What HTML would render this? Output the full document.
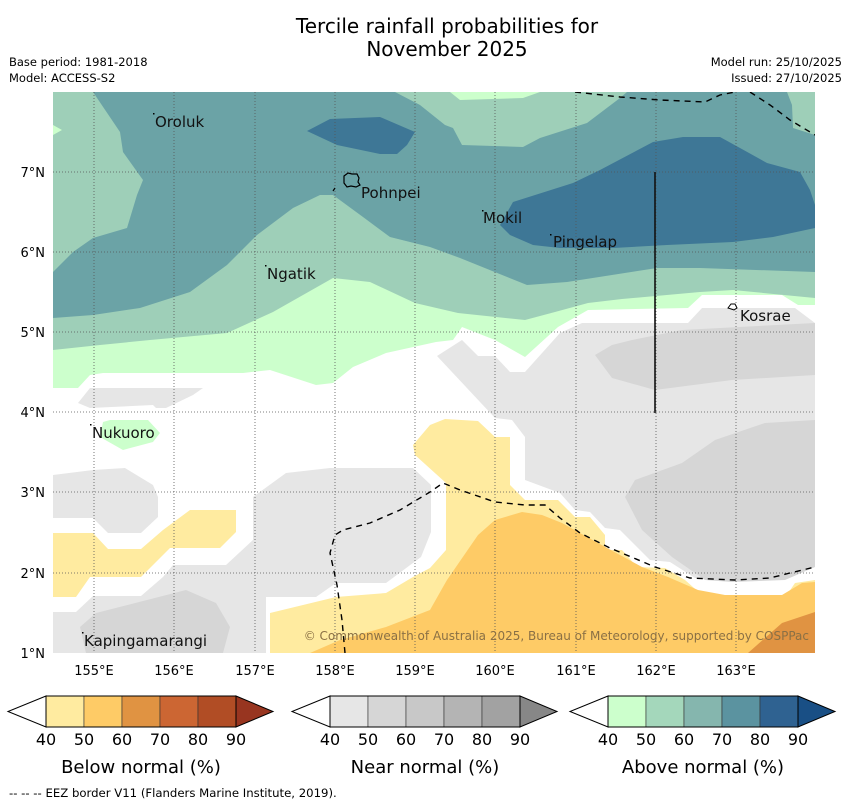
<!DOCTYPE html>
<html><head><meta charset="utf-8"><style>
body{margin:0;background:#fff;width:850px;height:804px;overflow:hidden;font-family:"Liberation Sans","DejaVu Sans",sans-serif;}
svg{position:absolute;left:0;top:0}
</style></head><body>
<svg width="850" height="804" viewBox="0 0 850 804" xmlns="http://www.w3.org/2000/svg" font-family="DejaVu Sans, Liberation Sans, sans-serif">
<text x="447" y="33" font-size="20" text-anchor="middle">Tercile rainfall probabilities for</text>
<text x="447" y="56" font-size="20" text-anchor="middle">November 2025</text>
<text x="9" y="66" font-size="11.5">Base period: 1981-2018</text>
<text x="9" y="82" font-size="11.5">Model: ACCESS-S2</text>
<text x="842" y="66" font-size="11.5" text-anchor="end">Model run: 25/10/2025</text>
<text x="842" y="82" font-size="11.5" text-anchor="end">Issued: 27/10/2025</text>
<defs><clipPath id="mc"><rect x="53" y="92" width="762" height="561"/></clipPath></defs>
<g clip-path="url(#mc)">
<rect x="53" y="92" width="762" height="561" fill="#fff"/>
<polygon fill="#ccffcc" points="53,92 815,92 815,305 798,305 782,295 702,295 688,308 588,310 558,327 525,357 495,340 462,327 453,340 436,342 386,353 353,367 333,383 316,385 270,370 243,373 103,373 90,375 78,388 53,388"/>
<polygon fill="#9ecfb8" points="53,92 815,92 815,298 733,290 700,292 622,299 588,303 555,312 525,320 458,313 415,303 370,282 333,278 273,312 227,333 150,340 100,345 53,350"/>
<polygon fill="#ccffcc" points="450,92 540,92 523,98 460,100"/>
<polygon fill="#ccffcc" points="53,125 62,130 53,135"/>
<polygon fill="#6ba3a6" points="93,92 395,92 420,105 445,125 453,128 462,145 523,147 540,138 587,123 620,98 627,92 787,92 792,105 793,128 815,135 815,272 700,268 657,268 567,282 527,285 460,258 430,247 390,237 363,217 333,195 320,195 293,208 257,235 227,265 190,292 140,308 93,315 53,318 53,272 73,252 93,238 127,228 137,195 143,180 123,152 120,132"/>
<polygon fill="#3e7796" points="307,131 330,119 380,117 415,132 407,145 397,154 380,154 337,145"/>
<polygon fill="#3e7796" points="500,225 513,202 573,183 600,170 653,142 683,137 720,137 740,148 767,163 800,172 810,190 815,205 815,228 773,237 733,242 667,245 613,248 560,248 533,245 510,235"/>
<polygon fill="#e6e6e6" points="78,403 90,388 203,388 193,395 166,408 156,408 153,405 90,408"/>
<polygon fill="#ccffcc" points="100,437 103,422 110,420 148,420 160,433 153,442 123,450"/>
<polygon fill="#e6e6e6" points="53,475 93,470 125,468 153,485 158,497 158,517 141,533 108,533 93,518 53,518"/>
<polygon fill="#e6e6e6" points="53,612 76,612 93,596 141,596 163,577 173,565 226,565 253,540 253,497 286,473 330,468 413,468 431,485 431,532 421,557 386,583 336,583 316,597 266,597 266,653 53,653"/>
<polygon fill="#d6d6d6" points="80,627 96,613 186,590 216,603 230,627 223,653 86,653"/>
<polygon fill="#e6e6e6" points="437,356 462,340 478,356 495,356 510,372 525,372 560,333 582,323 688,323 702,308 795,308 815,323 815,565 785,578 695,578 670,562 650,560 620,530 605,528 590,512 575,510 560,493 525,480 525,437 512,420 495,418"/>
<polygon fill="#d6d6d6" points="595,355 612,345 632,340 682,330 815,323 815,375 732,380 655,390 612,378"/>
<polygon fill="#d6d6d6" points="625,497 635,480 682,463 715,440 765,423 815,420 815,567 785,580 732,582 705,580 672,557 642,530"/>
<polygon fill="#ffeba0" points="53,533 93,533 108,549 141,549 163,530 190,510 236,510 236,532 220,548 170,548 141,577 90,577 76,597 53,597"/>
<polygon fill="#ffeba0" points="413,445 430,425 445,419 478,421 495,437 510,437 510,485 525,500 558,500 575,517 590,517 605,535 605,550 622,550 637,567 665,568 685,580 702,595 715,602 782,602 795,583 815,580 815,653 270,653 270,613 336,597 386,593 413,577 430,568 446,550 446,483 415,455"/>
<polygon fill="#fecb66" points="310,653 340,640 386,627 430,610 443,587 447,580 478,535 495,520 522,512 542,515 562,523 598,543 642,567 668,577 698,590 725,595 782,595 802,583 815,582 815,653"/>
<polygon fill="#e09342" points="748,653 782,623 815,612 815,653"/>
<g stroke="#555" stroke-width="0.8" stroke-dasharray="1,2">
<line x1="94" y1="92" x2="94" y2="653"/><line x1="174" y1="92" x2="174" y2="653"/><line x1="255" y1="92" x2="255" y2="653"/><line x1="335" y1="92" x2="335" y2="653"/><line x1="415" y1="92" x2="415" y2="653"/><line x1="495" y1="92" x2="495" y2="653"/><line x1="576" y1="92" x2="576" y2="653"/><line x1="656" y1="92" x2="656" y2="653"/><line x1="736" y1="92" x2="736" y2="653"/>
<line x1="53" y1="172" x2="815" y2="172"/><line x1="53" y1="252" x2="815" y2="252"/><line x1="53" y1="332" x2="815" y2="332"/><line x1="53" y1="412" x2="815" y2="412"/><line x1="53" y1="492" x2="815" y2="492"/><line x1="53" y1="573" x2="815" y2="573"/>
</g>
<g fill="none" stroke="#000" stroke-width="1.4" stroke-dasharray="6,5">
<polyline points="575,92 620,97 660,100 705,102 720,95 735,92"/>
<polyline points="750,92 770,105 790,120 815,135"/>
<polyline points="345,653 342,620 337,585 330,553 335,535 343,530 370,523 400,510 430,492 443,483 460,490 495,502 525,505 545,505 560,518 580,533 610,548 655,567 690,578 735,580 770,578 790,573 815,567"/>
</g>
<line x1="655" y1="172" x2="655" y2="413" stroke="#111" stroke-width="1.6"/>
<path d="M344,176 l4,-3 4,1 5,0 2,4 -1,4 2,3 -4,2 -5,-1 -4,1 -3,-4 z" fill="none" stroke="#000" stroke-width="1.2"/>
<path d="M333,191 l2,-3" stroke="#000" stroke-width="1.2"/>
<path d="M728,308 l3,-4 4,0 2,4 -3,2 z" fill="none" stroke="#000" stroke-width="1"/>
<g fill="#000">
<rect x="153" y="113" width="1.5" height="1.5"/><rect x="482" y="210" width="1.5" height="1.5"/><rect x="550" y="234" width="1.5" height="1.5"/><rect x="265" y="265" width="1.5" height="1.5"/><rect x="90" y="424" width="1.5" height="1.5"/><rect x="82" y="632" width="1.5" height="1.5"/>
</g>
<g font-size="15" fill="#111">
<text x="155" y="127">Oroluk</text>
<text x="361" y="198">Pohnpei</text>
<text x="483" y="223">Mokil</text>
<text x="553" y="247">Pingelap</text>
<text x="267" y="279">Ngatik</text>
<text x="740" y="321">Kosrae</text>
<text x="92" y="438">Nukuoro</text>
<text x="84" y="646">Kapingamarangi</text>
</g>
<text x="809" y="640" font-size="12" fill="#8a7045" text-anchor="end">© Commonwealth of Australia 2025, Bureau of Meteorology, supported by COSPPac</text>
</g>
<g font-size="13" fill="#000" text-anchor="middle">
<text x="94" y="675">155°E</text><text x="174" y="675">156°E</text><text x="255" y="675">157°E</text><text x="335" y="675">158°E</text><text x="415" y="675">159°E</text><text x="495" y="675">160°E</text><text x="576" y="675">161°E</text><text x="656" y="675">162°E</text><text x="736" y="675">163°E</text>
</g>
<g font-size="13" fill="#000" text-anchor="end">
<text x="45" y="177">7°N</text><text x="45" y="257">6°N</text><text x="45" y="337">5°N</text><text x="45" y="417">4°N</text><text x="45" y="497">3°N</text><text x="45" y="578">2°N</text><text x="45" y="658">1°N</text>
</g>
<g id="bars"></g>
<text x="9" y="797" font-size="11.7">--  --  -- EEZ border V11 (Flanders Marine Institute, 2019).</text>
</svg>
<script>
const tickLabels=["40","50","60","70","80","90"];
const barTitles=["Below normal (%)","Near normal (%)","Above normal (%)"];
const belowColors=["#ffeba0","#fecb66","#e09342","#cc6633","#b14d25","#983520"];
const nearColors=["#e6e6e6","#d6d6d6","#c8c8c8","#b4b4b4","#a2a2a2","#878787"];
const aboveColors=["#ccffcc","#a4d7bb","#85b6ae","#5b93a0","#2f6291","#194f85"];
const barColors=[belowColors,nearColors,aboveColors];
const barNames=["below","near","above"];
const NS="http://www.w3.org/2000/svg";
const g=document.getElementById('bars');
const starts=[46,330,608];
function mk(t,a){const e=document.createElementNS(NS,t);for(const k in a)e.setAttribute(k,a[k]);return e;}
barColors.forEach((cols,b)=>{
 const x0=starts[b],w=190,y0=696,h=31,seg=w/(tickLabels.length-1),cy=y0+h/2;
 const grp=mk('g',{});
 
 
 const lt=mk('polygon',{points:`${x0},${y0} ${x0-38},${cy} ${x0},${y0+h}`,fill:'#fff',stroke:'#000','stroke-width':1});
 
 
 grp.appendChild(lt);
 for(let i=0;i<tickLabels.length-1;i++){
  const r=mk('rect',{x:x0+i*seg,y:y0,width:seg,height:h,fill:cols[i],stroke:'#333','stroke-width':0.6});
  
  
  grp.appendChild(r);
 }
 const rt=mk('polygon',{points:`${x0+w},${y0} ${x0+w+37},${cy} ${x0+w},${y0+h}`,fill:cols[cols.length-1],stroke:'#000','stroke-width':1});
 
 
 grp.appendChild(rt);
 const ol=mk('rect',{x:x0,y:y0,width:w,height:h,fill:'none',stroke:'#000','stroke-width':1});
 grp.appendChild(ol);
 tickLabels.forEach((l,i)=>{
  const t=mk('text',{x:x0+i*seg,y:745,'font-size':16,'text-anchor':'middle'});
  t.textContent=l;
  
  
  grp.appendChild(t);
 });
 const tt=mk('text',{x:x0+w/2,y:773,'font-size':18,'text-anchor':'middle'});
 tt.textContent=barTitles[b];
 
 
 grp.appendChild(tt);
 g.appendChild(grp);
});
</script>
</body></html>
